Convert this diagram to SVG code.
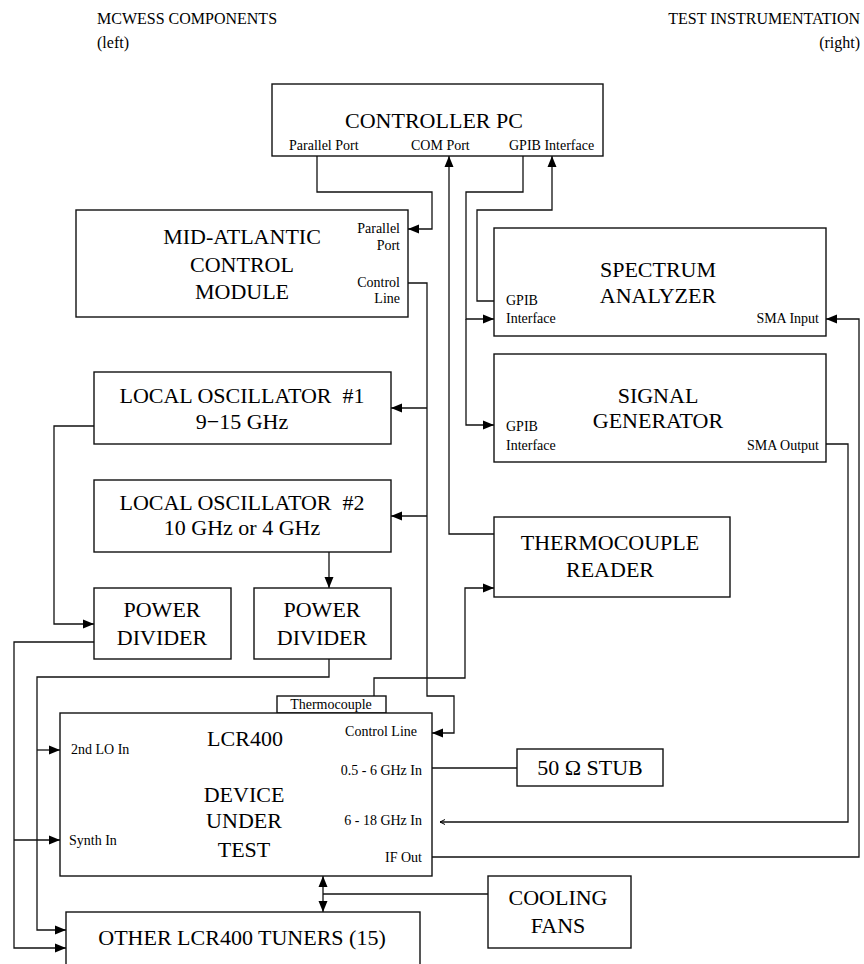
<svg xmlns="http://www.w3.org/2000/svg" width="864" height="964" viewBox="0 0 864 964">
<defs>
<marker id="arr" markerUnits="userSpaceOnUse" markerWidth="12" markerHeight="10" refX="11" refY="5" orient="auto-start-reverse"><path d="M0,0.5 L11,5 L0,9.5 z" fill="#000"/></marker>
<marker id="tiny" markerUnits="userSpaceOnUse" markerWidth="6" markerHeight="6" refX="5" refY="3" orient="auto"><path d="M0,0.5 L5,3 L0,5.5" fill="none" stroke="#000" stroke-width="1"/></marker>
<style>
.box{fill:#fff;stroke:#111;stroke-width:1.4}
.ln{fill:none;stroke:#111;stroke-width:1.3}
text{font-family:'Liberation Serif','Times New Roman','DejaVu Serif',serif;fill:#000}
.big{font-size:22px;text-anchor:middle}
.sm{font-size:14px}
.hd{font-size:16px}
.e{text-anchor:end}
.m{text-anchor:middle}
</style>
</defs>
<rect width="864" height="964" fill="#fff"/>

<g id="header">
<text class="hd" x="97" y="24">MCWESS COMPONENTS</text>
<text class="hd" x="97" y="48">(left)</text>
<text class="hd e" x="860" y="24">TEST INSTRUMENTATION</text>
<text class="hd e" x="860" y="48">(right)</text>
</g>

<g id="connectors">
<path class="ln" d="M317,156 V192 H432 V229 H408" marker-end="url(#arr)"/>
<path class="ln" d="M494,534 H449 V156" marker-end="url(#arr)"/>
<path class="ln" d="M523,156 V192 H466 V319 H494" marker-end="url(#arr)"/>
<path class="ln" d="M466,319 V425 H494" marker-end="url(#arr)"/>
<path class="ln" d="M494,301 H477 V210 H552 V156" marker-end="url(#arr)"/>
<path class="ln" d="M408,283 H427 V696 H454 V733 H432" marker-end="url(#arr)"/>
<path class="ln" d="M427,408 H391" marker-end="url(#arr)"/>
<path class="ln" d="M427,516 H391" marker-end="url(#arr)"/>
<path class="ln" d="M94,426 H54 V624 H94" marker-end="url(#arr)"/>
<path class="ln" d="M329,552 V588" marker-end="url(#arr)"/>
<path class="ln" d="M94,642 H14 V948 H66" marker-end="url(#arr)"/>
<path class="ln" d="M14,840 H60" marker-end="url(#arr)"/>
<path class="ln" d="M329,659 V677 H37 V930 H66" marker-end="url(#arr)"/>
<path class="ln" d="M37,750 H60" marker-end="url(#arr)"/>
<path class="ln" d="M374,696 V678 H465 V588 H494" marker-end="url(#arr)"/>
<path class="ln" d="M432,768 H517"/>
<path class="ln" d="M826,444 H848 V822 H440" marker-end="url(#tiny)"/>
<path class="ln" d="M432,857 H859 V319 H826" marker-end="url(#arr)"/>
<path class="ln" d="M323,876 V912" marker-start="url(#arr)" marker-end="url(#arr)"/>
<path class="ln" d="M323,894 H488"/>
</g>

<g id="controller-pc">
<rect class="box" x="272" y="84" width="331" height="72"/>
<text class="big" x="434" y="128">CONTROLLER PC</text>
<text class="sm" x="289" y="150">Parallel Port</text>
<text class="sm" x="411" y="150">COM Port</text>
<text class="sm" x="509" y="150">GPIB Interface</text>
</g>

<g id="mid-atlantic">
<rect class="box" x="76" y="210" width="332" height="107"/>
<text class="big" x="242" y="244">MID-ATLANTIC</text>
<text class="big" x="242" y="272">CONTROL</text>
<text class="big" x="242" y="299">MODULE</text>
<text class="sm e" x="400" y="233">Parallel</text>
<text class="sm e" x="400" y="250">Port</text>
<text class="sm e" x="400" y="287">Control</text>
<text class="sm e" x="400" y="303">Line</text>
</g>

<g id="spectrum-analyzer">
<rect class="box" x="494" y="228" width="332" height="108"/>
<text class="big" x="658" y="277">SPECTRUM</text>
<text class="big" x="658" y="303">ANALYZER</text>
<text class="sm" x="506" y="305">GPIB</text>
<text class="sm" x="506" y="323">Interface</text>
<text class="sm e" x="819" y="323">SMA Input</text>
</g>

<g id="signal-generator">
<rect class="box" x="494" y="354" width="332" height="108"/>
<text class="big" x="658" y="403">SIGNAL</text>
<text class="big" x="658" y="428">GENERATOR</text>
<text class="sm" x="506" y="431">GPIB</text>
<text class="sm" x="506" y="450">Interface</text>
<text class="sm e" x="819" y="450">SMA Output</text>
</g>

<g id="lo1">
<rect class="box" x="94" y="372" width="297" height="72"/>
<text class="big" x="242" y="403" xml:space="preserve">LOCAL OSCILLATOR  #1</text>
<text class="big" x="242" y="429">9−15 GHz</text>
</g>

<g id="lo2">
<rect class="box" x="94" y="480" width="297" height="72"/>
<text class="big" x="242" y="510" xml:space="preserve">LOCAL OSCILLATOR  #2</text>
<text class="big" x="242" y="535">10 GHz or 4 GHz</text>
</g>

<g id="thermocouple-reader">
<rect class="box" x="494" y="517" width="236" height="80"/>
<text class="big" x="610" y="550">THERMOCOUPLE</text>
<text class="big" x="610" y="577">READER</text>
</g>

<g id="power-divider-1">
<rect class="box" x="94" y="588" width="137" height="71"/>
<text class="big" x="162" y="617">POWER</text>
<text class="big" x="162" y="645">DIVIDER</text>
</g>

<g id="power-divider-2">
<rect class="box" x="254" y="588" width="137" height="71"/>
<text class="big" x="322" y="617">POWER</text>
<text class="big" x="322" y="645">DIVIDER</text>
</g>

<g id="lcr400">
<rect class="box" x="277" y="696" width="109" height="17"/>
<text class="sm m" x="331" y="709">Thermocouple</text>
<rect class="box" x="60" y="713" width="372" height="163"/>
<text class="big" x="245" y="746">LCR400</text>
<text class="big" x="244" y="802">DEVICE</text>
<text class="big" x="244" y="828">UNDER</text>
<text class="big" x="244" y="857">TEST</text>
<text class="sm e" x="417" y="736">Control Line</text>
<text class="sm" x="71" y="754">2nd LO In</text>
<text class="sm e" x="422" y="775">0.5 - 6 GHz In</text>
<text class="sm e" x="422" y="825">6 - 18 GHz In</text>
<text class="sm e" x="422" y="862">IF Out</text>
<text class="sm" x="69" y="845">Synth In</text>
</g>

<g id="stub">
<rect class="box" x="517" y="749" width="146" height="37"/>
<text class="big" x="590" y="775">50 Ω STUB</text>
</g>

<g id="cooling-fans">
<rect class="box" x="488" y="876" width="143" height="72"/>
<text class="big" x="558" y="905">COOLING</text>
<text class="big" x="558" y="933">FANS</text>
</g>

<g id="other-tuners">
<rect class="box" x="66" y="912" width="354" height="70"/>
<text class="big" x="242" y="945">OTHER LCR400 TUNERS (15)</text>
</g>
</svg>
